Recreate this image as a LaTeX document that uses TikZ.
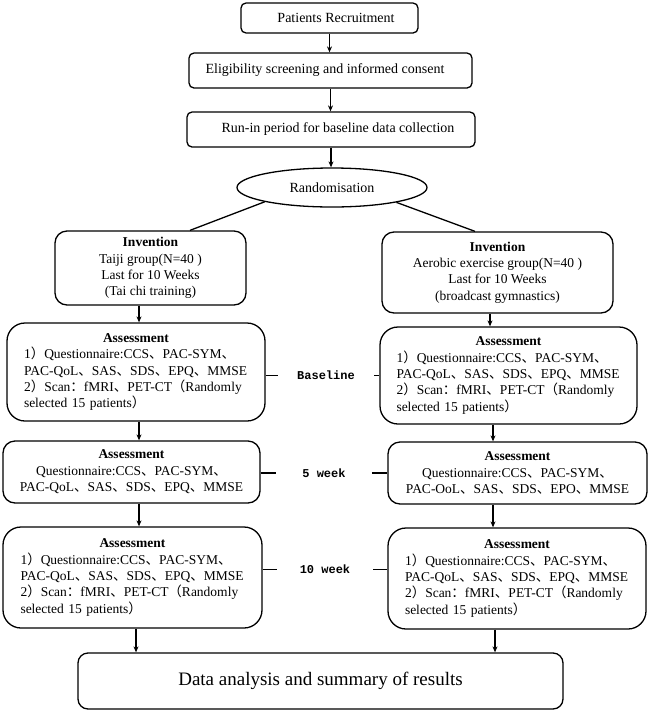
\documentclass[tikz,border=0pt]{standalone}
\usepackage{fontspec}
\setmainfont{Liberation Serif}
\newfontfamily\cjkf{Noto Sans CJK SC}
\newfontfamily\monof{Liberation Mono}
\usetikzlibrary{arrows.meta,shapes.geometric}
\newcommand\zdun{{\cjkf 、}}
\newcommand\zrp{{\cjkf ）}}
\newcommand\zlp{{\cjkf （}}
\newcommand\zcolon{{\cjkf ：}}
\begin{document}
\begin{tikzpicture}[x=1pt,y=-1pt,
  box/.style={draw, line width=1.3pt, rounded corners=#1, inner sep=0pt,
    align=center, font=\fontsize{13.5}{16.4}\selectfont},
  box/.default=6pt,
  topbox/.style={box=5pt, font=\fontsize{14}{16}\selectfont},
  abox/.style={box=#1, align=left, text width=224pt},
  abox/.default=16pt,
  wlabel/.style={font=\monof\bfseries\fontsize{12}{14}\selectfont, inner ysep=0pt},
  arr/.style={line width=1.2pt, -{Stealth[length=6pt,width=5pt]}},
  ln/.style={line width=1.3pt}
]
\useasboundingbox (0,0) rectangle (650,713);
\fill[white] (0,0) rectangle (650,713);

% top chain
\node[topbox, minimum width=177pt, minimum height=30pt] (rec) at (329.5,18) {\hspace*{13pt}Patients Recruitment};
\node[topbox, minimum width=283pt, minimum height=35pt] (elig) at (330.5,70.5) {Eligibility screening and informed consent\hspace*{11pt}};
\node[topbox, minimum width=288pt, minimum height=35pt] (runin) at (331,129.5) {\hspace*{14pt}Run-in period for baseline data collection};
\node[draw, line width=1.3pt, ellipse, inner sep=0pt, minimum width=190pt, minimum height=39pt,
  font=\fontsize{14}{16}\selectfont] (rand) at (332,187.5) {Randomisation};

% invention boxes
\node[box=12pt, minimum width=191pt, minimum height=74pt] (invL) at (150.5,268)
  {\textbf{Invention}\\Taiji group(N=40 )\\Last for 10 Weeks\\(Tai chi training)};
\node[box=12pt, minimum width=231pt, minimum height=81pt] (invR) at (497.5,272.5)
  {\textbf{Invention}\\Aerobic exercise group(N=40 )\\Last for 10 Weeks\\(broadcast gymnastics)};

% baseline assessments
\node[abox=18pt, minimum width=258pt, minimum height=98pt] (baseL) at (136,372)
  {\makebox[\hsize]{\textbf{Assessment}}\\1\zrp Questionnaire:CCS\zdun PAC-SYM\zdun\\PAC-QoL\zdun SAS\zdun SDS\zdun EPQ\zdun MMSE\\2\zrp Scan\zcolon fMRI\zdun PET-CT\zlp Randomly\\selected 15 patients\zrp};
\node[abox=18pt, minimum width=257pt, minimum height=97pt] (baseR) at (508.5,375.5)
  {\makebox[\hsize]{\textbf{Assessment}}\\1\zrp Questionnaire:CCS\zdun PAC-SYM\zdun\\PAC-QoL\zdun SAS\zdun SDS\zdun EPQ\zdun MMSE\\2\zrp Scan\zcolon fMRI\zdun PET-CT\zlp Randomly\\selected 15 patients\zrp};

% 5 week assessments
\node[box=12pt, minimum width=257pt, minimum height=62pt] (w5L) at (131.5,472)
  {\textbf{Assessment}\\Questionnaire:CCS\zdun PAC-SYM\zdun\\PAC-QoL\zdun SAS\zdun SDS\zdun EPQ\zdun MMSE};
\node[box=12pt, minimum width=259pt, minimum height=62pt] (w5R) at (517.5,473)
  {\textbf{Assessment}\\Questionnaire:CCS\zdun PAC-SYM\zdun\\PAC-OoL\zdun SAS\zdun SDS\zdun EPO\zdun MMSE};

% 10 week assessments
\node[abox=18pt, minimum width=259pt, minimum height=101pt] (w10L) at (132.5,577.5)
  {\makebox[\hsize]{\textbf{Assessment}}\\1\zrp Questionnaire:CCS\zdun PAC-SYM\zdun\\PAC-QoL\zdun SAS\zdun SDS\zdun EPQ\zdun MMSE\\2\zrp Scan\zcolon fMRI\zdun PET-CT\zlp Randomly\\selected 15 patients\zrp};
\node[abox=18pt, minimum width=258pt, minimum height=101pt] (w10R) at (517,578.5)
  {\makebox[\hsize]{\textbf{Assessment}}\\1\zrp Questionnaire:CCS\zdun PAC-SYM\zdun\\PAC-QoL\zdun SAS\zdun SDS\zdun EPQ\zdun MMSE\\2\zrp Scan\zcolon fMRI\zdun PET-CT\zlp Randomly\\selected 15 patients\zrp};

% final box
\node[box=10pt, minimum width=485pt, minimum height=56pt, font=\fontsize{19}{22}\selectfont] (data) at (320.5,681)
  {Data analysis and summary of results};

% time labels
\node[wlabel, inner xsep=19pt] (lbB) at (326,375.5) {Baseline};
\node[wlabel, inner xsep=26pt] (lb5) at (324,473) {5 week};
\node[wlabel, inner xsep=23pt] (lb10) at (325,569.5) {10 week};

% arrows, top chain
\draw[arr] (rec.south) -- (rec.south |- elig.north);
\draw[arr] (elig.south) -- (elig.south |- runin.north);
\draw[arr] (runin.south) -- (runin.south |- rand.north);

% randomisation split
\draw[ln] (rand.192) -- ([xshift=39.5pt]invL.north);
\draw[ln] (rand.347) -- ([xshift=-22.5pt]invR.north);

% left column
\coordinate (cL1) at ([xshift=-11.5pt]invL.south);
\draw[arr] (cL1) -- (cL1 |- baseL.north);
\coordinate (cL2) at ([xshift=3pt]baseL.south);
\draw[arr] (cL2) -- (cL2 |- w5L.north);
\coordinate (cL3) at ([xshift=7.5pt]w5L.south);
\draw[arr] (cL3) -- (cL3 |- w10L.north);
\coordinate (cL4) at ([xshift=3.5pt]w10L.south);
\draw[arr] (cL4) -- (cL4 |- data.north);

% right column
\coordinate (cR1) at ([xshift=-7.5pt]invR.south);
\draw[arr] (cR1) -- (cR1 |- baseR.north);
\coordinate (cR2) at ([xshift=-15.5pt]baseR.south);
\draw[arr] (cR2) -- (cR2 |- w5R.north);
\coordinate (cR3) at ([xshift=-24.5pt]w5R.south);
\draw[arr] (cR3) -- (cR3 |- w10R.north);
\coordinate (cR4) at ([xshift=-22pt]w10R.south);
\draw[arr] (cR4) -- (cR4 |- data.north);

% label ticks
\draw[ln] (baseL.east |- lbB.west) -- (lbB.west);
\draw[ln] (lbB.east) -- (baseR.west |- lbB.east);
\draw[ln] (w5L.east |- lb5.west) -- (lb5.west);
\draw[ln] (lb5.east) -- (w5R.west |- lb5.east);
\draw[ln] (w10L.east |- lb10.west) -- (lb10.west);
\draw[ln] (lb10.east) -- (w10R.west |- lb10.east);
\end{tikzpicture}
\end{document}
